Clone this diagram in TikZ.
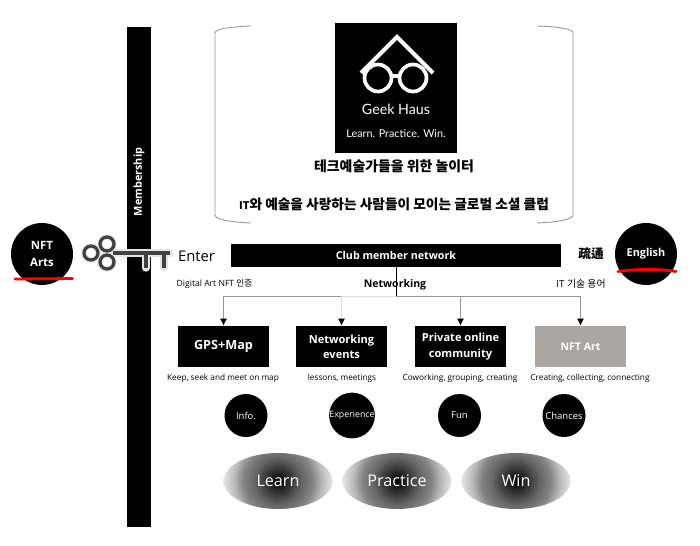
\documentclass[tikz,border=0pt]{standalone}
\usepackage{fontspec}
\setmainfont{Open Sans}
\newfontfamily\krfont{Noto Sans CJK KR}
\newfontfamily\logofont{Lato}
\usetikzlibrary{arrows.meta,calc,shapes.geometric}
\definecolor{clubgris}{RGB}{170,166,163}
\definecolor{clubligne}{RGB}{150,150,150}
\definecolor{clubcle}{RGB}{64,64,64}
\pgfdeclareradialshading{clubglow}{\pgfpoint{0bp}{0bp}}{color(0bp)=(black); color(4bp)=(black!85); color(11bp)=(black!60); color(16bp)=(black!48); color(20bp)=(black!28); color(25bp)=(black!10); color(50bp)=(black!10)}
\tikzset{
  blackbox/.style={fill=black, text=white, font=\fontsize{6.3}{8.7}\selectfont\bfseries, align=center, minimum width=1.82cm, minimum height=0.82cm, inner sep=0pt},
  subtext/.style={font=\fontsize{4.7}{6}\selectfont, inner sep=0pt},
  roundtag/.style={circle, fill=black, text=white, minimum size=0.86cm, inner sep=0pt, font=\fontsize{5.4}{6}\selectfont},
  sidetag/.style={circle, fill=black, text=white, minimum size=1.24cm, inner sep=0pt, align=center, font=\fontsize{6.5}{10}\selectfont\bfseries},
  glowtag/.style={ellipse, path picture={\shade[shading=clubglow] (path picture bounding box.center) circle (1.09);}, text=white, minimum width=2.18cm, minimum height=1.12cm, inner sep=0pt, font=\fontsize{9.2}{11}\selectfont},
  scribble/.style={red, line width=1.6pt, line cap=round},
  linkline/.style={clubligne, line width=0.5pt, -{Latex[black,length=4pt,width=4pt]}}
}

\begin{document}
\begin{tikzpicture}
  \useasboundingbox (0,0) rectangle (14,10.9);

  % Membership bar
  \node[fill=black, minimum width=0.48cm, minimum height=10cm, inner sep=0pt] (memberbar) at (2.78,5.36) {};
  \node[rotate=90, text=white, font=\fontsize{6.2}{8}\selectfont\bfseries, inner sep=0pt] (memberlabel) at (2.78,7.26) {Membership};

  % Logo
  \node[fill=black, minimum width=2.44cm, minimum height=2.6cm, inner sep=0pt] (logo) at (7.92,9.14) {};
  \draw[white, line width=2.3pt] (7.22,9.44) -- (7.94,10.16) -- (8.66,9.44);
  \draw[white, line width=2.1pt] (7.56,9.34) circle (0.27);
  \draw[white, line width=2.1pt] (8.26,9.34) circle (0.27);
  \draw[white, line width=2.1pt] (7.83,9.38) -- (7.99,9.38);
  \node[text=white, font=\logofont\fontsize{8.1}{9}\selectfont, inner sep=0pt] (logoname) at (7.92,8.72) {Geek Haus};
  \node[text=white, font=\logofont\fontsize{6.15}{7}\selectfont, inner sep=0pt] (logomotto) at (7.92,8.22) {Learn. Practice. Win.};

  % Brackets
  \draw[clubligne, line width=0.5pt] (5.02,10.38) .. controls (4.55,10.36) and (4.3,10.32) .. (4.3,10.24) -- (4.3,6.6) .. controls (4.3,6.52) and (4.55,6.46) .. (5.02,6.44);
  \draw[clubligne, line width=0.5pt] (10.74,10.38) .. controls (11.21,10.36) and (11.46,10.32) .. (11.46,10.24) -- (11.46,6.6) .. controls (11.46,6.52) and (11.21,6.46) .. (10.74,6.44);

  % Titles
  \node[font=\krfont\fontsize{7.9}{9}\selectfont\bfseries, inner sep=0pt] (titleone) at (7.88,7.58) {테크예술가들을 위한 놀이터};
  \node[font=\krfont\fontsize{7.8}{9}\selectfont\bfseries, inner sep=0pt] (titletwo) at (7.88,6.82) {{\fontsize{6}{9}\selectfont IT}와 예술을 사랑하는 사람들이 모이는 글로벌 소셜 클럽};

  % Network
  \node[fill=black, text=white, font=\fontsize{6.1}{8}\selectfont\bfseries, minimum width=6.6cm, minimum height=0.46cm, inner sep=0pt] (club) at (7.92,5.79) {Club member network};
  \node[font=\fontsize{6}{8}\selectfont\bfseries, inner sep=0pt] (networking) at (7.9,5.2) {Networking};
  \node[subtext, font=\fontsize{4.9}{6}\selectfont] (nftproof) at (4.29,5.22) {Digital Art NFT {\krfont 인증}};
  \node[subtext, font=\fontsize{5.6}{6}\selectfont] (itwords) at (11.62,5.22) {IT {\krfont 기술 용어}};
  \coordinate (hub) at (7.92,4.98);

  % Feature boxes
  \node[blackbox, font=\fontsize{7.2}{9}\selectfont\bfseries] (gps) at (4.47,3.97) {GPS+Map};
  \node[blackbox] (events) at (6.83,3.97) {Networking\\events};
  \node[blackbox] (community) at (9.21,3.97) {Private online\\community};
  \node[blackbox, fill=clubgris, font=\fontsize{6}{8}\selectfont\bfseries] (nftart) at (11.61,3.97) {NFT Art};
  \draw[black, line width=0.5pt] (club) -- (hub);
  \draw[linkline] (hub) -| (gps.north);
  \draw[linkline, black!12] (hub) -| (events.north);
  \draw[linkline] (hub) -| (community.north);
  \draw[linkline] (hub) -| (nftart.north);

  % Feature captions
  \node[subtext] (gpstext) at (4.46,3.34) {Keep, seek and meet on map};
  \node[subtext] (eventstext) at (6.84,3.34) {lessons, meetings};
  \node[subtext] (communitytext) at (9.2,3.34) {Coworking, grouping, creating};
  \node[subtext] (nfttext) at (11.8,3.34) {Creating, collecting, connecting};

  % Round tags
  \node[roundtag] (info) at (4.92,2.59) {Info.};
  \node[roundtag, font=\fontsize{5}{6}\selectfont] (experience) at (7.04,2.59) {Experience};
  \node[roundtag] (fun) at (9.19,2.59) {Fun};
  \node[roundtag] (chances) at (11.28,2.59) {Chances};

  % Learn Practice Win
  \node[glowtag] (learn) at (5.56,1.28) {Learn};
  \node[glowtag] (practice) at (7.94,1.28) {Practice};
  \node[glowtag] (win) at (10.32,1.28) {Win};

  % Side tags
  \node[sidetag] (nftarts) at (0.84,5.82) {NFT\\Arts};
  \node[sidetag, font=\fontsize{6.2}{8}\selectfont\bfseries] (english) at (12.92,5.82) {English};
  \draw[scribble] (0.3,5.32) -- (1.45,5.33);
  \draw[scribble] (12.36,5.47) .. controls (12.8,5.53) and (13.2,5.52) .. (13.52,5.47);
  \node[font=\krfont\fontsize{7.2}{9}\selectfont\bfseries, inner sep=0pt] (sotong) at (11.82,5.82) {疏通};

  % Key
  \draw[black!10, line width=4.2pt, line cap=round] (2.26,5.84) -- (3.4,5.84) (2.92,5.84) -- (2.92,5.54) (3.28,5.84) -- (3.28,5.54);
  \draw[black!10, line width=3pt] (2.14,6.02) circle (0.14) (2.14,5.66) circle (0.14) (1.82,5.84) circle (0.14);
  \draw[clubcle, line width=1.8pt] (2.14,6.02) circle (0.14) (2.14,5.66) circle (0.14) (1.82,5.84) circle (0.14);
  \draw[clubcle, line width=2.8pt] (2.26,5.84) -- (3.4,5.84) (2.92,5.84) -- (2.92,5.54) (3.28,5.84) -- (3.28,5.54);
  \node[font=\fontsize{8.4}{9}\selectfont, inner sep=0pt] (enter) at (3.93,5.78) {Enter};
\end{tikzpicture}
\end{document}
